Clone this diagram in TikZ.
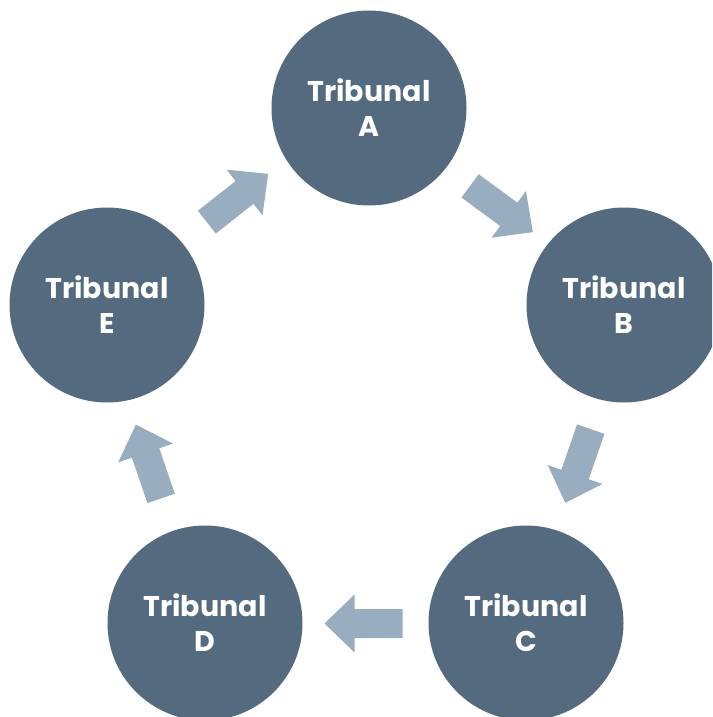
\documentclass[tikz,border=0pt]{standalone}
\usepackage{fontspec}
\setmainfont{Poppins}
\usetikzlibrary{calc}
\definecolor{circfill}{HTML}{546A7E}
\definecolor{arrfill}{HTML}{98ADC0}
\begin{document}
\begin{tikzpicture}[x=1pt,y=-1pt,
  tribunal/.style={circle, fill=circfill, minimum size=195pt, inner sep=0pt,
    text=white, align=center, font=\fontsize{28.5}{35}\selectfont\bfseries},
  blockarrow/.style={fill=arrfill, draw=none}]
\useasboundingbox (0,0) rectangle (712,717);
\clip (0,0) rectangle (712,717);
\node[tribunal] (A) at (369,108) {Tribunal\\A};
\node[tribunal] (B) at (624,305) {Tribunal\\B};
\node[tribunal] (C) at (526,623) {Tribunal\\C};
\node[tribunal] (D) at (205,623) {Tribunal\\D};
\node[tribunal] (E) at (107,305) {Tribunal\\E};
\def\blockarrowpath{(-39,-14.5) -- (9,-14.5) -- (9,-29) -- (39,0) -- (9,29) -- (9,14.5) -- (-39,14.5) -- cycle}
\fill[blockarrow, shift={(501.5,209)}, rotate=-36.4] \blockarrowpath;
\fill[blockarrow, shift={(578,466)}, rotate=-109.1] \blockarrowpath;
\fill[blockarrow, shift={(363.5,623.5)}, rotate=180] \blockarrowpath;
\fill[blockarrow, shift={(148.5,461.5)}, rotate=108.9] \blockarrowpath;
\fill[blockarrow, shift={(237.5,198)}, rotate=38.2] \blockarrowpath;
\end{tikzpicture}
\end{document}
